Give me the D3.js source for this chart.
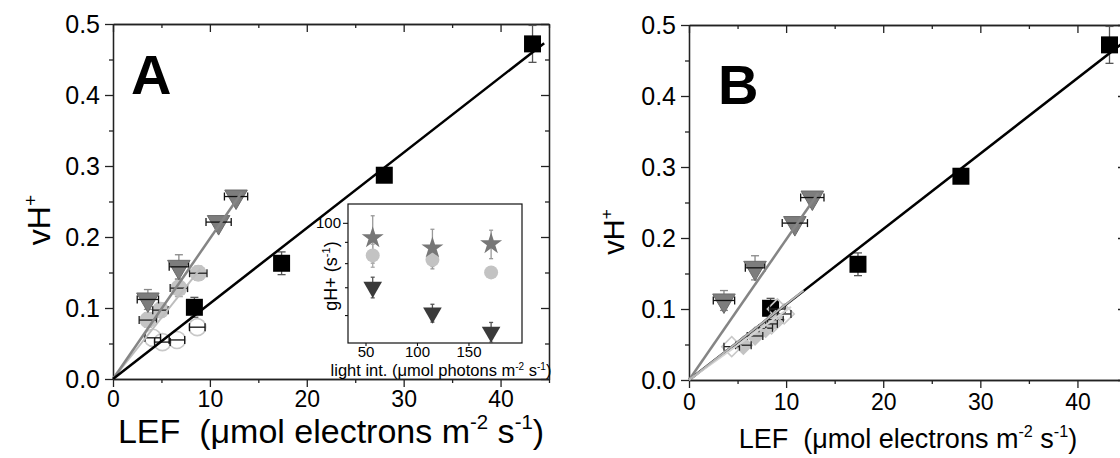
<!DOCTYPE html>
<html>
<head>
<meta charset="utf-8">
<script src="https://cdn.jsdelivr.net/npm/d3@7"></script>
<style>
  body { margin: 0; background: #fff; }
  svg { display: block; font-family: "Liberation Sans", Arial, Helvetica, sans-serif; }
  text { white-space: pre; }
</style>
</head>
<body>
<svg id="chart" width="1120" height="458"></svg>
<script>
// ---------------- Data ----------------
// Proton flux (vH+) against linear electron flow (LEF)

// Black squares (shared by both panels)
const lefSquare    = [8.4, 17.4, 28.0, 43.3];
const vhSquare     = [0.101, 0.163, 0.287, 0.472];
const vhSquareErr  = [0.014, 0.016, 0.008, 0.026];

// Grey downward triangles (shared by both panels)
const lefTriangle    = [3.6, 6.8, 10.9, 12.7];
const vhTriangle     = [0.112, 0.158, 0.221, 0.257];
const lefTriangleErr = [1.1, 1.0, 1.3, 1.2];
const vhTriangleErr  = [0.014, 0.017, 0.008, 0.008];

// Panel A: light grey filled circles
const lefCircle    = [3.6, 4.9, 6.8, 8.8];
const vhCircle     = [0.083, 0.097, 0.128, 0.149];
const lefCircleErr = [0.9, 0.8, 0.9, 0.9];
const vhCircleErr  = [0.010, 0.010, 0.012, 0.010];

// Panel A: open circles
const lefOpen    = [4.1, 5.1, 6.6, 8.7];
const vhOpen     = [0.058, 0.052, 0.055, 0.073];
const lefOpenErr = [0.8, 0.8, 0.8, 0.8];

// Panel B: light grey filled diamonds
const lefDiamond    = [5.6, 6.8, 7.9, 8.9];
const vhDiamond     = [0.049, 0.062, 0.073, 0.085];
const lefDiamondErr = [0.8, 0.8, 0.7, 0.8];

// Panel B: open diamonds
const lefOpenDiamond    = [4.4, 8.5, 9.1, 9.8];
const vhOpenDiamond     = [0.047, 0.079, 0.100, 0.093];
const lefOpenDiamondErr = [0.8, 0.6, 0.8, 0.7];

// Linear fits through the origin: [LEF end, vH+ end]
const fitSquare      = [44.5, 0.473];
const fitTriangle    = [13.3, 0.263];
const fitCircle      = [9.0, 0.155];
const fitDiamond     = [11.8, 0.126];
const fitOpenDiamond = [10.5, 0.103];

// Axis ticks
const xMajor = [0, 10, 20, 30, 40];
const xMinor = [5, 15, 25, 35, 45];
const yMajor = [0, 0.1, 0.2, 0.3, 0.4, 0.5];
const yMinor = [0.05, 0.15, 0.25, 0.35, 0.45];

// Inset: proton conductance gH+ against light intensity
const lightInt      = [57, 115, 172];
const gStar         = [92, 87, 89];
const gStarErr      = [12, 9.5, 7];
const gCircle       = [83.5, 81.5, 76];
const gCircleErr    = [5.3, 3, 2];
const gTriangle     = [70, 60.7, 54.6];
const gTriangleErr  = [4, 3, 3];
const insetXTicks   = [50, 100, 150];
const insetYMajor   = [100];
const insetYMinor   = [60, 70, 80, 90];

// ---------------- Styles ----------------
const C_BLACK = "#000";
const C_TRI = "#7d7d7d";
const C_LIGHT = "#c3c3c3";
const C_OPEN = "#c8c8c8";
const C_INSET_TRI = "#3a3a3a";

const svg = d3.select("#chart");

const sym = (type, size) => d3.symbol().type(type).size(size)();

function hErr(g, x, y, cx, cy, e, color, cap) {
  g.append("line").attr("x1", x(cx - e)).attr("x2", x(cx + e))
    .attr("y1", y(cy)).attr("y2", y(cy)).attr("stroke", color).attr("stroke-width", 1.3);
  [cx - e, cx + e].forEach(v => g.append("line")
    .attr("x1", x(v)).attr("x2", x(v)).attr("y1", y(cy) - cap).attr("y2", y(cy) + cap)
    .attr("stroke", color).attr("stroke-width", 1.3));
}
function vErr(g, x, y, cx, cy, e, color, cap) {
  g.append("line").attr("x1", x(cx)).attr("x2", x(cx))
    .attr("y1", y(cy - e)).attr("y2", y(cy + e)).attr("stroke", color).attr("stroke-width", 1.3);
  [cy - e, cy + e].forEach(v => g.append("line")
    .attr("x1", x(cx) - cap).attr("x2", x(cx) + cap).attr("y1", y(v)).attr("y2", y(v))
    .attr("stroke", color).attr("stroke-width", 1.3));
}
function fitLine(g, x, y, end, color, width) {
  g.append("line").attr("x1", x(0)).attr("y1", y(0))
    .attr("x2", x(end[0])).attr("y2", y(end[1]))
    .attr("stroke", color).attr("stroke-width", width);
}

function frame(g, x, y, opt) {
  const styleAxis = sel => {
    sel.select(".domain").attr("stroke", "#222").attr("stroke-width", 1.3);
    sel.selectAll(".tick line").attr("stroke", "#222").attr("stroke-width", 1.3);
    sel.selectAll("text").attr("fill", "#000").attr("font-family", null);
  };
  const [x0, x1] = x.range();
  const [y0, y1] = y.range();
  // bottom
  g.append("g").attr("transform", `translate(0,${y0})`)
    .call(d3.axisBottom(x).tickValues(xMinor).tickSize(4).tickSizeOuter(0).tickFormat(""))
    .call(styleAxis);
  g.append("g").attr("transform", `translate(0,${y0})`)
    .call(d3.axisBottom(x).tickValues(xMajor).tickSize(8).tickSizeOuter(0).tickPadding(opt.xPad)
      .tickFormat(d3.format("d")))
    .call(styleAxis)
    .selectAll("text").attr("font-size", opt.xTickFont);
  // top
  g.append("g").attr("transform", `translate(0,${y1})`)
    .call(d3.axisTop(x).tickValues(xMinor).tickSize(-4).tickSizeOuter(0).tickFormat(""))
    .call(styleAxis);
  g.append("g").attr("transform", `translate(0,${y1})`)
    .call(d3.axisTop(x).tickValues(xMajor).tickSize(-8).tickSizeOuter(0).tickFormat(""))
    .call(styleAxis);
  // left
  g.append("g").attr("transform", `translate(${x0},0)`)
    .call(d3.axisLeft(y).tickValues(yMinor).tickSize(4).tickSizeOuter(0).tickFormat(""))
    .call(styleAxis);
  g.append("g").attr("transform", `translate(${x0},0)`)
    .call(d3.axisLeft(y).tickValues(yMajor).tickSize(8).tickSizeOuter(0).tickPadding(opt.yPad)
      .tickFormat(d3.format(".1f")))
    .call(styleAxis)
    .selectAll("text").attr("font-size", opt.yTickFont);
  // right
  g.append("g").attr("transform", `translate(${x1},0)`)
    .call(d3.axisRight(y).tickValues(yMinor).tickSize(-4).tickSizeOuter(0).tickFormat(""))
    .call(styleAxis);
  g.append("g").attr("transform", `translate(${x1},0)`)
    .call(d3.axisRight(y).tickValues(yMajor).tickSize(-8).tickSizeOuter(0).tickFormat(""))
    .call(styleAxis);
}

function xTitle(g, cx, baseline, size) {
  const t = g.append("text").attr("x", cx).attr("y", baseline).attr("text-anchor", "middle")
    .attr("font-size", size).attr("fill", "#000");
  t.append("tspan").text("LEF  (\u03bcmol electrons m");
  t.append("tspan").attr("dy", -size * 0.4).attr("font-size", size * 0.6).text("-2");
  t.append("tspan").attr("dy", size * 0.4).text(" s");
  t.append("tspan").attr("dy", -size * 0.4).attr("font-size", size * 0.6).text("-1");
  t.append("tspan").attr("dy", size * 0.4).text(")");
}
function yTitle(g, cx, cy, size) {
  const t = g.append("text").attr("transform", `translate(${cx},${cy}) rotate(-90)`)
    .attr("text-anchor", "middle").attr("font-size", size).attr("fill", "#000");
  t.append("tspan").text("vH");
  t.append("tspan").attr("dy", -size * 0.4).attr("font-size", size * 0.6).text("+");
}

function drawCommon(g, x, y) {
  // squares
  lefSquare.forEach((v, i) => vErr(g, x, y, v, vhSquare[i], vhSquareErr[i], "#555", 4));
  lefSquare.forEach((v, i) => g.append("path").attr("d", sym(d3.symbolSquare, 17 * 17))
    .attr("transform", `translate(${x(v)},${y(vhSquare[i])})`).attr("fill", C_BLACK));
}
function drawTriangles(g, x, y) {
  lefTriangle.forEach((v, i) => vErr(g, x, y, v, vhTriangle[i], vhTriangleErr[i], "#888", 4));
  lefTriangle.forEach((v, i) => g.append("path").attr("d", sym(d3.symbolTriangle, 220))
    .attr("transform", `translate(${x(v)},${y(vhTriangle[i])}) rotate(180)`)
    .attr("fill", C_TRI).attr("stroke", "#6a6a6a").attr("stroke-width", 1));
  lefTriangle.forEach((v, i) => hErr(g, x, y, v, vhTriangle[i], lefTriangleErr[i], "#111", 4));
}

// ---------------- Panel A ----------------
{
  const x = d3.scaleLinear().domain([0, 45]).range([113, 549]);
  const y = d3.scaleLinear().domain([0, 0.5]).range([379, 24]);
  const g = svg.append("g");
  frame(g, x, y, { xTickFont: 23, yTickFont: 25, xPad: 4, yPad: 5 });

  // open circles
  lefOpen.forEach((v, i) => g.append("circle").attr("cx", x(v)).attr("cy", y(vhOpen[i])).attr("r", 8.5)
    .attr("fill", "none").attr("stroke", C_OPEN).attr("stroke-width", 1.6));
  lefOpen.forEach((v, i) => hErr(g, x, y, v, vhOpen[i], lefOpenErr[i], "#111", 4));

  drawCommon(g, x, y);

  // light grey circles
  lefCircle.forEach((v, i) => vErr(g, x, y, v, vhCircle[i], vhCircleErr[i], "#aaa", 4));
  lefCircle.forEach((v, i) => g.append("circle").attr("cx", x(v)).attr("cy", y(vhCircle[i])).attr("r", 8.5)
    .attr("fill", C_LIGHT));
  lefCircle.forEach((v, i) => hErr(g, x, y, v, vhCircle[i], lefCircleErr[i], "#222", 4));

  drawTriangles(g, x, y);

  fitLine(g, x, y, fitCircle, "#bdbdbd", 2);
  fitLine(g, x, y, fitTriangle, "#858585", 2.5);
  fitLine(g, x, y, fitSquare, "#000", 2.5);

  g.append("text").attr("x", 131).attr("y", 94).attr("font-size", 56).attr("font-weight", "bold").text("A");
  xTitle(g, 331, 443, 34);
  yTitle(g, 50, 220, 32);

  // ---- Inset ----
  const ix = d3.scaleLinear().domain([33, 202]).range([348, 522]);
  const iy = d3.scaleLog().domain([51.4, 111]).range([343, 204]);
  const ig = g.append("g");
  ig.append("rect").attr("x", 348).attr("y", 204).attr("width", 174).attr("height", 139)
    .attr("fill", "#fff").attr("stroke", "#111").attr("stroke-width", 1.2);
  const iStyle = sel => {
    sel.select(".domain").remove();
    sel.selectAll(".tick line").attr("stroke", "#111").attr("stroke-width", 1.1);
    sel.selectAll("text").attr("fill", "#000").attr("font-family", null);
  };
  ig.append("g").attr("transform", "translate(0,343)")
    .call(d3.axisBottom(ix).tickValues(insetXTicks).tickSize(3).tickPadding(0).tickFormat(d3.format("d")))
    .call(iStyle).selectAll("text").attr("font-size", 15);
  ig.append("g").attr("transform", "translate(348,0)")
    .call(d3.axisLeft(iy).tickValues(insetYMajor).tickSize(5).tickPadding(2).tickFormat(d3.format("d")))
    .call(iStyle).selectAll("text").attr("font-size", 15);
  ig.append("g").attr("transform", "translate(348,0)")
    .call(d3.axisLeft(iy).tickValues(insetYMinor).tickSize(3).tickFormat(""))
    .call(iStyle);

  // inset markers
  lightInt.forEach((v, i) => vErr(ig, ix, iy, v, gStar[i], gStarErr[i], "#999", 2));
  lightInt.forEach((v, i) => vErr(ig, ix, iy, v, gCircle[i], gCircleErr[i], "#aaa", 2));
  lightInt.forEach((v, i) => ig.append("circle").attr("cx", ix(v)).attr("cy", iy(gCircle[i])).attr("r", 7)
    .attr("fill", C_LIGHT));
  lightInt.forEach((v, i) => ig.append("path").attr("d", sym(d3.symbolStar, 150))
    .attr("transform", `translate(${ix(v)},${iy(gStar[i])})`).attr("fill", "#777"));
  lightInt.forEach((v, i) => vErr(ig, ix, iy, v, gTriangle[i], gTriangleErr[i], "#555", 2));
  lightInt.forEach((v, i) => ig.append("path").attr("d", sym(d3.symbolTriangle, 150))
    .attr("transform", `translate(${ix(v)},${iy(gTriangle[i])}) rotate(180)`).attr("fill", C_INSET_TRI));

  // inset titles
  const it = ig.append("text").attr("x", 441).attr("y", 376).attr("text-anchor", "middle")
    .attr("font-size", 16.5).attr("fill", "#000");
  it.append("tspan").text("light int. (\u03bcmol photons m");
  it.append("tspan").attr("dy", -6.5).attr("font-size", 10).text("-2");
  it.append("tspan").attr("dy", 6.5).text(" s");
  it.append("tspan").attr("dy", -6.5).attr("font-size", 10).text("-1");
  it.append("tspan").attr("dy", 6.5).text(")");

  const iyt = ig.append("text").attr("transform", "translate(337,276) rotate(-90)")
    .attr("text-anchor", "middle").attr("font-size", 18).attr("fill", "#000");
  iyt.append("tspan").text("gH+ (s");
  iyt.append("tspan").attr("dy", -7).attr("font-size", 11).text("-1");
  iyt.append("tspan").attr("dy", 7).text(")");
}

// ---------------- Panel B ----------------
{
  const x = d3.scaleLinear().domain([0, 45]).range([689, 1126]);
  const y = d3.scaleLinear().domain([0, 0.5]).range([380, 25]);
  const g = svg.append("g");
  frame(g, x, y, { xTickFont: 23, yTickFont: 25, xPad: 6, yPad: 5 });

  drawCommon(g, x, y);

  // filled diamonds
  lefDiamond.forEach((v, i) => g.append("path").attr("d", sym(d3.symbolSquare, 200))
    .attr("transform", `translate(${x(v)},${y(vhDiamond[i])}) rotate(45)`)
    .attr("fill", C_LIGHT));
  lefDiamond.forEach((v, i) => hErr(g, x, y, v, vhDiamond[i], lefDiamondErr[i], "#222", 4));
  // open diamonds
  lefOpenDiamond.forEach((v, i) => g.append("path").attr("d", sym(d3.symbolSquare, 200))
    .attr("transform", `translate(${x(v)},${y(vhOpenDiamond[i])}) rotate(45)`)
    .attr("fill", "none").attr("stroke", C_OPEN).attr("stroke-width", 1.6));
  lefOpenDiamond.forEach((v, i) => hErr(g, x, y, v, vhOpenDiamond[i], lefOpenDiamondErr[i], "#222", 4));

  drawTriangles(g, x, y);

  fitLine(g, x, y, fitSquare, "#000", 2.5);
  fitLine(g, x, y, fitTriangle, "#858585", 2.5);
  fitLine(g, x, y, fitOpenDiamond, "#d4d4d4", 2);
  fitLine(g, x, y, fitDiamond, "#b5b5b5", 2);

  g.append("text").attr("x", 718).attr("y", 104).attr("font-size", 56).attr("font-weight", "bold").text("B");
  xTitle(g, 908, 448, 27);
  yTitle(g, 624, 232, 29);
}
</script>
</body>
</html>
